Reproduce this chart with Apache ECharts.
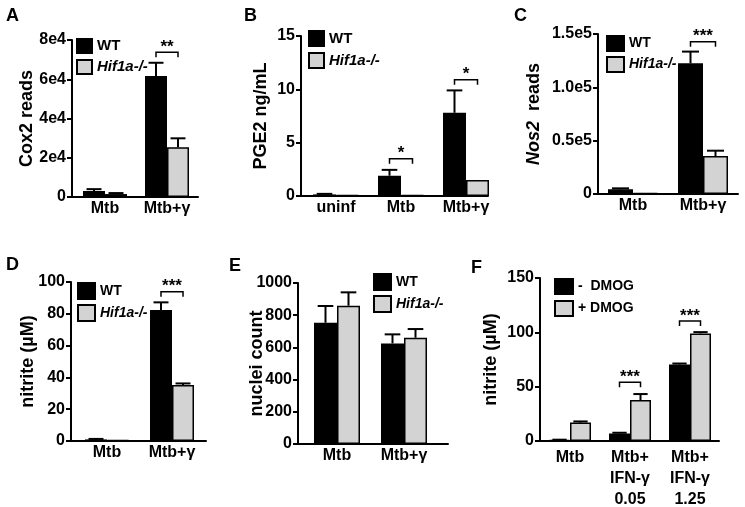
<!DOCTYPE html>
<html><head><meta charset="utf-8">
<script src="https://cdn.jsdelivr.net/npm/echarts/dist/echarts.min.js"></script>
<style>html,body{margin:0;padding:0;background:#fff}#c{width:745px;height:507px}</style>
</head><body><div id="c"></div>
<script>
// ---------- Panel A : Cox2 reads ----------
const catsA = ['Mtb', 'Mtb+γ'];
const wtA = [3000, 61700];
const wtErrA = [1000, 6700];
const hifA = [1500, 25300];
const hifErrA = [500, 4600];
const sigA = [[1, 73700, '**']];
const ticksA = ['0', '2e4', '4e4', '6e4', '8e4'];
// ---------- Panel B : PGE2 ----------
const catsB = ['uninf', 'Mtb', 'Mtb+γ'];
const wtB = [0.15, 1.9, 7.8];
const wtErrB = [0.05, 0.55, 2.1];
const hifB = [0.1, 0.1, 1.5];
const hifErrB = [0, 0, 0];
const sigB = [[1, 3.5, '*'], [2, 10.9, '*']];
const ticksB = ['0', '5', '10', '15'];
// ---------- Panel C : Nos2 reads ----------
const catsC = ['Mtb', 'Mtb+γ'];
const wtC = [4400, 122500];
const wtErrC = [900, 11000];
const hifC = [1000, 35600];
const hifErrC = [0, 5000];
const sigC = [[1, 142800, '***']];
const ticksC = ['0', '0.5e5', '1.0e5', '1.5e5'];
// ---------- Panel D : nitrite ----------
const catsD = ['Mtb', 'Mtb+γ'];
const wtD = [1, 82.4];
const wtErrD = [0.3, 4.8];
const hifD = [0.5, 35.2];
const hifErrD = [0, 1];
const sigD = [[1, 93.9, '***']];
const ticksD = ['0', '20', '40', '60', '80', '100'];
// ---------- Panel E : nuclei count ----------
const catsE = ['Mtb', 'Mtb+γ'];
const wtE = [753, 625];
const wtErrE = [104, 56];
const hifE = [859, 660];
const hifErrE = [83, 54];
const sigE = [];
const ticksE = ['0', '200', '400', '600', '800', '1000'];
// ---------- Panel F : nitrite with DMOG ----------
const catsF = ['Mtb', 'Mtb+\nIFN-γ\n0.05', 'Mtb+\nIFN-γ\n1.25'];
const minusF = [1, 7, 70.5];
const minusErrF = [0.2, 0.6, 0.8];
const plusF = [17, 37.7, 99];
const plusErrF = [1, 5.5, 1.2];
const sigF = [[1, 54, '***'], [2, 110.4, '***']];
const ticksF = ['0', '50', '100', '150'];

const namesWT = ['WT', 'Hif1a-/-'];
const namesF = ['-  DMOG', '+ DMOG'];

const FONT = '"Liberation Sans", Arial, Helvetica, sans-serif';

const panels = [
  {L:'A', cats:catsA, s1:wtA, e1:wtErrA, s2:hifA, e2:hifErrA, sig:sigA, ticks:ticksA, names:namesWT,
   yname:'Cox2 reads', lay:{letter:[6,7], axis:[72,40,126,157], bars:[74,124], bw:22, max:80000, int:20000, gap:36, leg:[76,38,15,14,5], lfs:15, xm:3, xlh:18}},
  {L:'B', cats:catsB, s1:wtB, e1:wtErrB, s2:hifB, e2:hifErrB, sig:sigB, ticks:ticksB, names:namesWT,
   yname:'PGE2 ng/mL', lay:{letter:[244,7], axis:[301,36,187,160], bars:[303.5,195], bw:23, max:15, int:5, gap:31, leg:[308,30,15,15,5], lfs:15, xm:3, xlh:18}},
  {L:'C', cats:catsC, s1:wtC, e1:wtErrC, s2:hifC, e2:hifErrC, sig:sigC, ticks:ticksC, names:namesWT,
   yname:'{i|Nos2}  reads', lay:{letter:[514,7], axis:[598,34,140,160], bars:[598,140], bw:25, max:150000, int:50000, gap:55, leg:[606,35,17,15,4], lfs:14, xm:3, xlh:18}},
  {L:'D', cats:catsD, s1:wtD, e1:wtErrD, s2:hifD, e2:hifErrD, sig:sigD, ticks:ticksD, names:namesWT,
   yname:'nitrite (µM)', lay:{letter:[6,256], axis:[71,282,135,159], bars:[74.5,130], bw:22, max:100, int:20, gap:34, leg:[77,282,17,16,4], lfs:14, xm:3, xlh:18}},
  {L:'E', cats:catsE, s1:wtE, e1:wtErrE, s2:hifE, e2:hifErrE, sig:sigE, ticks:ticksE, names:namesWT,
   yname:'nuclei count', lay:{letter:[229,257], axis:[298,283,150,161], bars:[303.5,134], bw:23, max:1000, int:200, gap:32, leg:[373,273,17,16,4], lfs:14, xm:3, xlh:18}},
  {L:'F', cats:catsF, s1:minusF, e1:minusErrF, s2:plusF, e2:plusErrF, sig:sigF, ticks:ticksF, names:namesF,
   yname:'nitrite (µM)', lay:{letter:[471,259], axis:[540,278,179,163], bars:[540,180], bw:21, max:150, int:50, gap:40, leg:[554,278,18,15,5], lfs:14, xm:6, xlh:21}}
];

const grid = [], xAxis = [], yAxis = [], series = [], legend = [], graphic = [];
const GREY = '#d3d3d3';

function errRender(bw) {
  return function (params, api) {
    const c = api.value(0), v = api.value(1), e = api.value(2), side = api.value(3);
    if (!(e > 0)) return {type: 'group', children: []};
    const p0 = api.coord([c, v]);
    const p1 = api.coord([c, v + e]);
    const x = p0[0] + (side === 0 ? -bw / 2 : bw / 2);
    const cap = bw * 0.34;
    return {type: 'group', children: [
      {type: 'line', shape: {x1: x, y1: p0[1], x2: x, y2: p1[1]}, style: {stroke: '#000', lineWidth: 2}},
      {type: 'line', shape: {x1: x - cap, y1: p1[1], x2: x + cap, y2: p1[1]}, style: {stroke: '#000', lineWidth: 2}}
    ]};
  };
}
function sigRender(bw, sig) {
  return function (params, api) {
    const c = api.value(0), y = api.value(1);
    const p = api.coord([c, y]);
    const xl = p[0] - bw / 2, xr = p[0] + bw / 2, drop = 5;
    return {type: 'group', children: [
      {type: 'polyline', shape: {points: [[xl, p[1] + drop], [xl, p[1]], [xr, p[1]], [xr, p[1] + drop]]},
       style: {stroke: '#000', lineWidth: 1.5, fill: null}},
      {type: 'text', x: p[0], y: p[1] - 5,
       style: {text: sig[params.dataIndex][2], textAlign: 'center', textVerticalAlign: 'middle',
               font: 'bold 17px ' + FONT, fill: '#000'}}
    ]};
  };
}

panels.forEach(function (p) {
  const L = p.lay;
  const gA = grid.length;
  grid.push({left: L.axis[0], top: L.axis[1], width: L.axis[2], height: L.axis[3], outerBoundsMode: 'none', containLabel: false});
  const gB = grid.length;
  grid.push({left: L.bars[0], top: L.axis[1], width: L.bars[1], height: L.axis[3], outerBoundsMode: 'none', containLabel: false});
  const xa = xAxis.length, ya = yAxis.length;
  xAxis.push({gridIndex: gA, type: 'value', min: 0, max: 1,
    axisLine: {show: true, lineStyle: {color: '#000', width: 2}}, axisTick: {show: false},
    axisLabel: {show: false}, splitLine: {show: false}});
  xAxis.push({gridIndex: gB, type: 'category', data: p.cats,
    axisLine: {show: false}, axisTick: {show: false}, splitLine: {show: false},
    axisLabel: {show: true, interval: 0, margin: L.xm, color: '#000', fontFamily: FONT, fontWeight: 'bold', fontSize: 16, lineHeight: L.xlh}});
  const rich = {i: {fontStyle: 'italic', fontWeight: 'bold', fontFamily: FONT, fontSize: 18, color: '#000'}};
  yAxis.push({gridIndex: gA, type: 'value', min: 0, max: L.max, interval: L.int,
    axisLine: {show: true, lineStyle: {color: '#000', width: 2}},
    axisTick: {show: true, inside: false, length: 5, lineStyle: {color: '#000', width: 2}},
    axisLabel: {show: true, margin: 6, color: '#000', fontFamily: FONT, fontWeight: 'bold', fontSize: 16,
      formatter: function (v) { return p.ticks[Math.round(v / L.int)]; }},
    splitLine: {show: false},
    name: p.yname, nameLocation: 'middle', nameGap: L.gap, nameMoveOverlap: false,
    nameTextStyle: {color: '#000', fontFamily: FONT, fontWeight: 'bold', fontSize: 18, rich: rich}});
  yAxis.push({gridIndex: gB, type: 'value', min: 0, max: L.max, show: false});

  series.push({type: 'bar', name: p.names[0], xAxisIndex: xa + 1, yAxisIndex: ya + 1, data: p.s1,
    barWidth: L.bw, barGap: '0%', itemStyle: {color: '#000', borderColor: '#000', borderWidth: 1.5}, z: 2, animation: false});
  series.push({type: 'bar', name: p.names[1], xAxisIndex: xa + 1, yAxisIndex: ya + 1, data: p.s2,
    barWidth: L.bw, barGap: '0%', itemStyle: {color: GREY, borderColor: '#000', borderWidth: 1.5}, z: 2, animation: false});
  const errData = [];
  p.cats.forEach(function (c, i) { errData.push([i, p.s1[i], p.e1[i], 0]); errData.push([i, p.s2[i], p.e2[i], 1]); });
  series.push({type: 'custom', xAxisIndex: xa + 1, yAxisIndex: ya + 1, data: errData, renderItem: errRender(L.bw),
    clip: false, z: 3, animation: false, silent: true});
  if (p.sig.length) {
    series.push({type: 'custom', xAxisIndex: xa + 1, yAxisIndex: ya + 1, data: p.sig.map(function (s) { return [s[0], s[1]]; }),
      renderItem: sigRender(L.bw, p.sig), clip: false, z: 3, animation: false, silent: true});
  }
  legend.push({orient: 'vertical', left: L.leg[0], top: L.leg[1], itemWidth: L.leg[2], itemHeight: L.leg[3], itemGap: L.leg[4],
    padding: 0, icon: 'rect', selectedMode: false,
    data: [{name: p.names[0]}, {name: p.names[1], textStyle: p.names === namesWT ? {fontStyle: 'italic'} : {}}],
    textStyle: {color: '#000', fontFamily: FONT, fontWeight: 'bold', fontSize: L.lfs, lineHeight: L.leg[3], padding: [0, 0, 0, 0]}});
  graphic.push({type: 'text', left: L.letter[0], top: L.letter[1],
    style: {text: p.L, font: 'bold 18px ' + FONT, fill: '#000'}});
});

const chart = echarts.init(document.getElementById('c'), null, {renderer: 'canvas'});
chart.setOption({animation: false, backgroundColor: '#fff', grid: grid, xAxis: xAxis, yAxis: yAxis,
  series: series, legend: legend, graphic: graphic, tooltip: {show: false}});
</script></body></html>
